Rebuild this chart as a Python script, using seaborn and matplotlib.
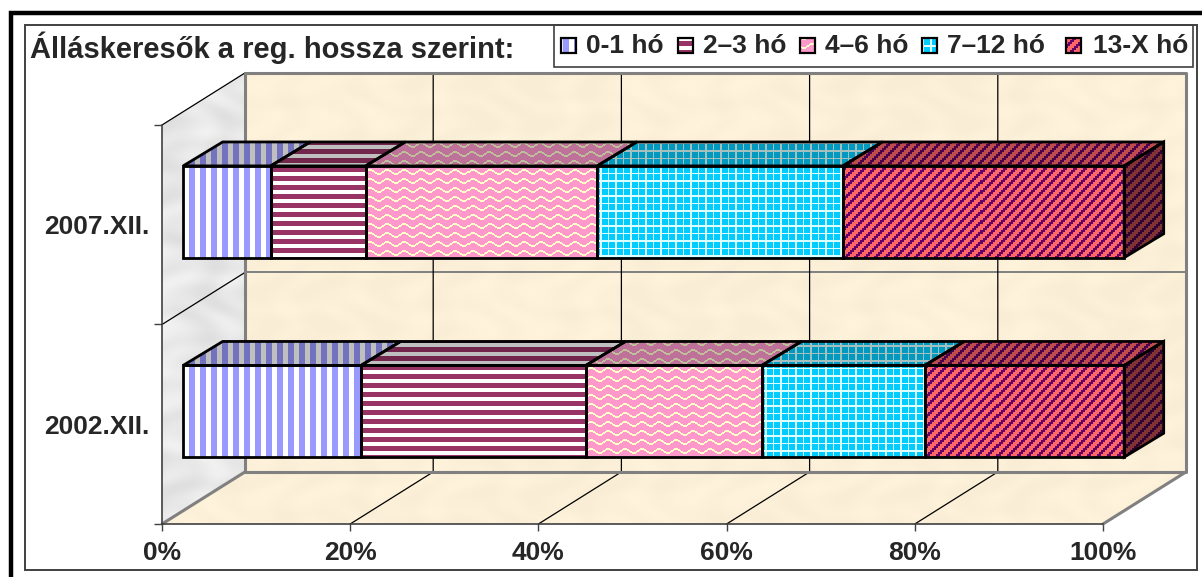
#!/usr/bin/env python3

import numpy as np
import pandas as pd
import matplotlib
matplotlib.use('Agg')
import matplotlib.pyplot as plt
import seaborn as sns
from matplotlib.lines import Line2D
from matplotlib.patches import Polygon, Rectangle
from matplotlib.transforms import IdentityTransform

years = ['2007.XII.', '2002.XII.']
groups = ['0-1 hó', '2–3 hó', '4–6 hó', '7–12 hó', '13-X hó']
share_2007 = [9.3, 10.1, 24.6, 26.1, 29.9]
share_2002 = [18.9, 23.9, 18.7, 17.3, 21.2]
x_ticks = [0, 20, 40, 60, 80, 100]
chart_title = 'Álláskeresők a reg. hossza szerint:'

W, H = 1202, 577
# 3d look, in data units (percent, category)
WALL_DX, WALL_DY = 8.82, 0.261
BAR_DX, BAR_DY = 2.25, 0.065
DEPTH_DX, DEPTH_DY = 4.2, 0.12
BAR_H = 0.46

yy, xx = np.indices((H, W))


def rgb(hexstr):
    return np.array(matplotlib.colors.to_rgb(hexstr))


def two_tone(mask, a, b):
    return np.where(mask[..., None], rgb(a), rgb(b))


def pat_vertical():
    return two_tone((xx - 189) % 11 < 6, '#9999ff', '#ffffff')


def pat_horizontal():
    return two_tone((yy - 167) % 9 < 5, '#993366', '#ffffff')


def pat_wave():
    off = 2.2 * np.sin(2 * np.pi * xx / 17.0)
    return two_tone((yy - np.round(off)) % 9 < 2, '#ffffcc', '#ff99cc')


def pat_grid():
    return two_tone((xx % 7.5 < 1.3) | (yy % 7.5 < 1.3), '#dcffff', '#00ccff')


def pat_diag():
    return two_tone((xx // 2 + yy // 2) % 5 < 2, '#660066', '#ff6666')


def pat_mottle(base, amp):
    # soft marbling of the walls
    m = np.sin(xx / 17.0 + np.sin(yy / 11.0) * 2) * np.sin(yy / 13.0 + np.sin(xx / 23.0) * 2)
    return np.clip(rgb(base) + (amp * m)[..., None], 0, 1)


def paint(ax, img, clip, z):
    im = ax.imshow(img, extent=(0, W, 0, H), origin='upper', aspect='auto', interpolation='nearest',
                   transform=IdentityTransform(), zorder=z)
    im.set_clip_path(clip)
    # a Rectangle clip sets the box itself, anything else would stay cut at the axes
    if not isinstance(clip, Rectangle):
        im.set_clip_box(ax.figure.bbox)
    return im


def quad(ax, pts, **kw):
    p = Polygon(pts, closed=True, transform=ax.transData, clip_on=False, **kw)
    return p


def px_rect(x0, y0, x1, y1, **kw):
    return Rectangle((x0, H - y1), x1 - x0, y1 - y0, transform=IdentityTransform(), **kw)


def main():
    sns.set_style('white')
    plt.rcParams['font.family'] = ['Liberation Sans', 'DejaVu Sans']
    plt.rcParams['font.weight'] = 'bold'

    fig = plt.figure(figsize=(W / 100, H / 100), dpi=100)
    ax = fig.add_axes([162 / W, 1 - 524 / H, 941 / W, 399 / H])
    ax.patch.set_alpha(0)

    patterns = [pat_vertical(), pat_horizontal(), pat_wave(), pat_grid(), pat_diag()]
    base_colors = ['#9999ff', '#993366', '#ff99cc', '#00ccff', '#ff6666']
    shares = np.array([share_2007, share_2002])
    lefts = np.hstack([np.zeros((2, 1)), np.cumsum(shares, axis=1)[:, :-1]])

    bars = []
    for i, group in enumerate(groups):
        df = pd.DataFrame({'year': years, 'share': shares[:, i]})
        n = len(ax.patches)
        sns.barplot(data=df, x='share', y='year', order=years, orient='h', color=base_colors[i],
                    saturation=1, width=BAR_H, ax=ax)
        for j, p in enumerate(ax.patches[n:]):
            p.set_x(lefts[j, i] + BAR_DX)
            p.set_y(p.get_y() + BAR_DY * -1)
            bars.append((i, p))

    ax.set_xlim(0, 100)
    ax.set_ylim(1.5, -0.5)
    ax.set_autoscale_on(False)

    # walls and floor
    top, bottom, mid = -0.5, 1.5, 0.5
    wall_color = pat_mottle('#fdf0d8', 0.012)
    stone = pat_mottle('#e8e8e8', 0.035)
    back = [(WALL_DX, top - WALL_DY), (100 + WALL_DX, top - WALL_DY),
            (100 + WALL_DX, bottom - WALL_DY), (WALL_DX, bottom - WALL_DY)]
    side = [(0, top), (WALL_DX, top - WALL_DY), (WALL_DX, bottom - WALL_DY), (0, bottom)]
    floor = [(0, bottom), (100, bottom), (100 + WALL_DX, bottom - WALL_DY), (WALL_DX, bottom - WALL_DY)]
    paint(ax, wall_color, quad(ax, back), 1)
    paint(ax, wall_color, quad(ax, floor), 1)
    paint(ax, stone, quad(ax, side), 1)

    gray = dict(color='#808080', lw=2.2, clip_on=False, zorder=1.6)
    ax.plot([WALL_DX, WALL_DX, 100 + WALL_DX, 100 + WALL_DX, WALL_DX],
            [bottom - WALL_DY, top - WALL_DY, top - WALL_DY, bottom - WALL_DY, bottom - WALL_DY], **gray)
    ax.plot([0, WALL_DX], [bottom, bottom - WALL_DY], **gray)
    ax.plot([100, 100 + WALL_DX], [bottom, bottom - WALL_DY], **gray)
    ax.plot([WALL_DX, 100 + WALL_DX], [mid - WALL_DY, mid - WALL_DY], color='#808080', lw=1.4, clip_on=False, zorder=1.5)

    thin = dict(color='black', lw=0.9, clip_on=False, zorder=1.5)
    for t in x_ticks[1:-1]:
        ax.plot([t, t + WALL_DX, t + WALL_DX], [bottom, bottom - WALL_DY, top - WALL_DY], **thin)
    ax.plot([0, WALL_DX], [top, top - WALL_DY], **thin)
    ax.plot([0, WALL_DX], [mid, mid - WALL_DY], **thin)

    # bars: front, top and end faces
    for i, p in bars:
        x0, w = p.get_x(), p.get_width()
        y0 = p.get_y()
        p.set_facecolor('none')
        p.set_edgecolor('black')
        p.set_linewidth(2.0)
        p.set_zorder(5)
        p.set_clip_on(False)
        paint(ax, patterns[i], p, 3)
        top_pts = [(x0, y0), (x0 + w, y0), (x0 + w + DEPTH_DX, y0 - DEPTH_DY), (x0 + DEPTH_DX, y0 - DEPTH_DY)]
        paint(ax, patterns[i] * 0.75, quad(ax, top_pts), 3)
        ax.add_patch(quad(ax, top_pts, fill=False, ec='black', lw=2.0, zorder=4))
        if i == len(groups) - 1:
            h = p.get_height()
            end_pts = [(x0 + w, y0), (x0 + w + DEPTH_DX, y0 - DEPTH_DY),
                       (x0 + w + DEPTH_DX, y0 + h - DEPTH_DY), (x0 + w, y0 + h)]
            paint(ax, patterns[i] * 0.5, quad(ax, end_pts), 3)
            ax.add_patch(quad(ax, end_pts, fill=False, ec='black', lw=2.0, zorder=4))

    # axes
    sns.despine(ax=ax, top=True, right=True)
    for s in ['left', 'bottom']:
        ax.spines[s].set_color('#404040')
        ax.spines[s].set_linewidth(1.2)
    ax.set_xlabel('')
    ax.set_ylabel('')
    ax.set_xticks(x_ticks)
    ax.set_xticklabels(['%d%%' % t for t in x_ticks], fontsize=19, fontweight='bold')
    ax.set_yticks([top, mid, bottom])
    ax.set_yticklabels([])
    ax.set_yticks([0, 1], labels=years, minor=True, fontsize=19, fontweight='bold')
    ax.tick_params(axis='x', bottom=True, length=5, width=1, color='#404040', pad=7)
    ax.tick_params(axis='y', which='major', left=True, length=5.5, width=1, color='#404040')
    ax.tick_params(axis='y', which='minor', left=False, pad=7)

    # frame, title and legend box
    fig.add_artist(Line2D([11, 11, W], [0, H - 13, H - 13], transform=IdentityTransform(),
                          color='black', lw=3.2, solid_joinstyle='miter'))
    fig.add_artist(px_rect(25, 25, 1197, 570, fill=False, ec='#404040', lw=1.4))
    fig.add_artist(px_rect(554, 25, 1193, 67, fill=False, ec='#404040', lw=1.2))
    fig.text(30 / W, 1 - 48 / H, chart_title, fontsize=21, fontweight='bold', ha='left', va='center')

    swatch_x = [561, 678, 800, 922, 1066]
    label_x = [586, 703, 825, 947, 1093]
    for i, group in enumerate(groups):
        sx = swatch_x[i]
        paint(ax, patterns[i], px_rect(sx, 38, sx + 15, 53), 6)
        ax.add_patch(px_rect(sx, 38, sx + 15, 53, fill=False, ec='black', lw=1.6, zorder=7, clip_on=False))
        fig.text(label_x[i] / W, 1 - 46 / H, group, fontsize=19, fontweight='bold', ha='left', va='center')

    fig.savefig('out.png', dpi=100)


if __name__ == '__main__':
    main()
